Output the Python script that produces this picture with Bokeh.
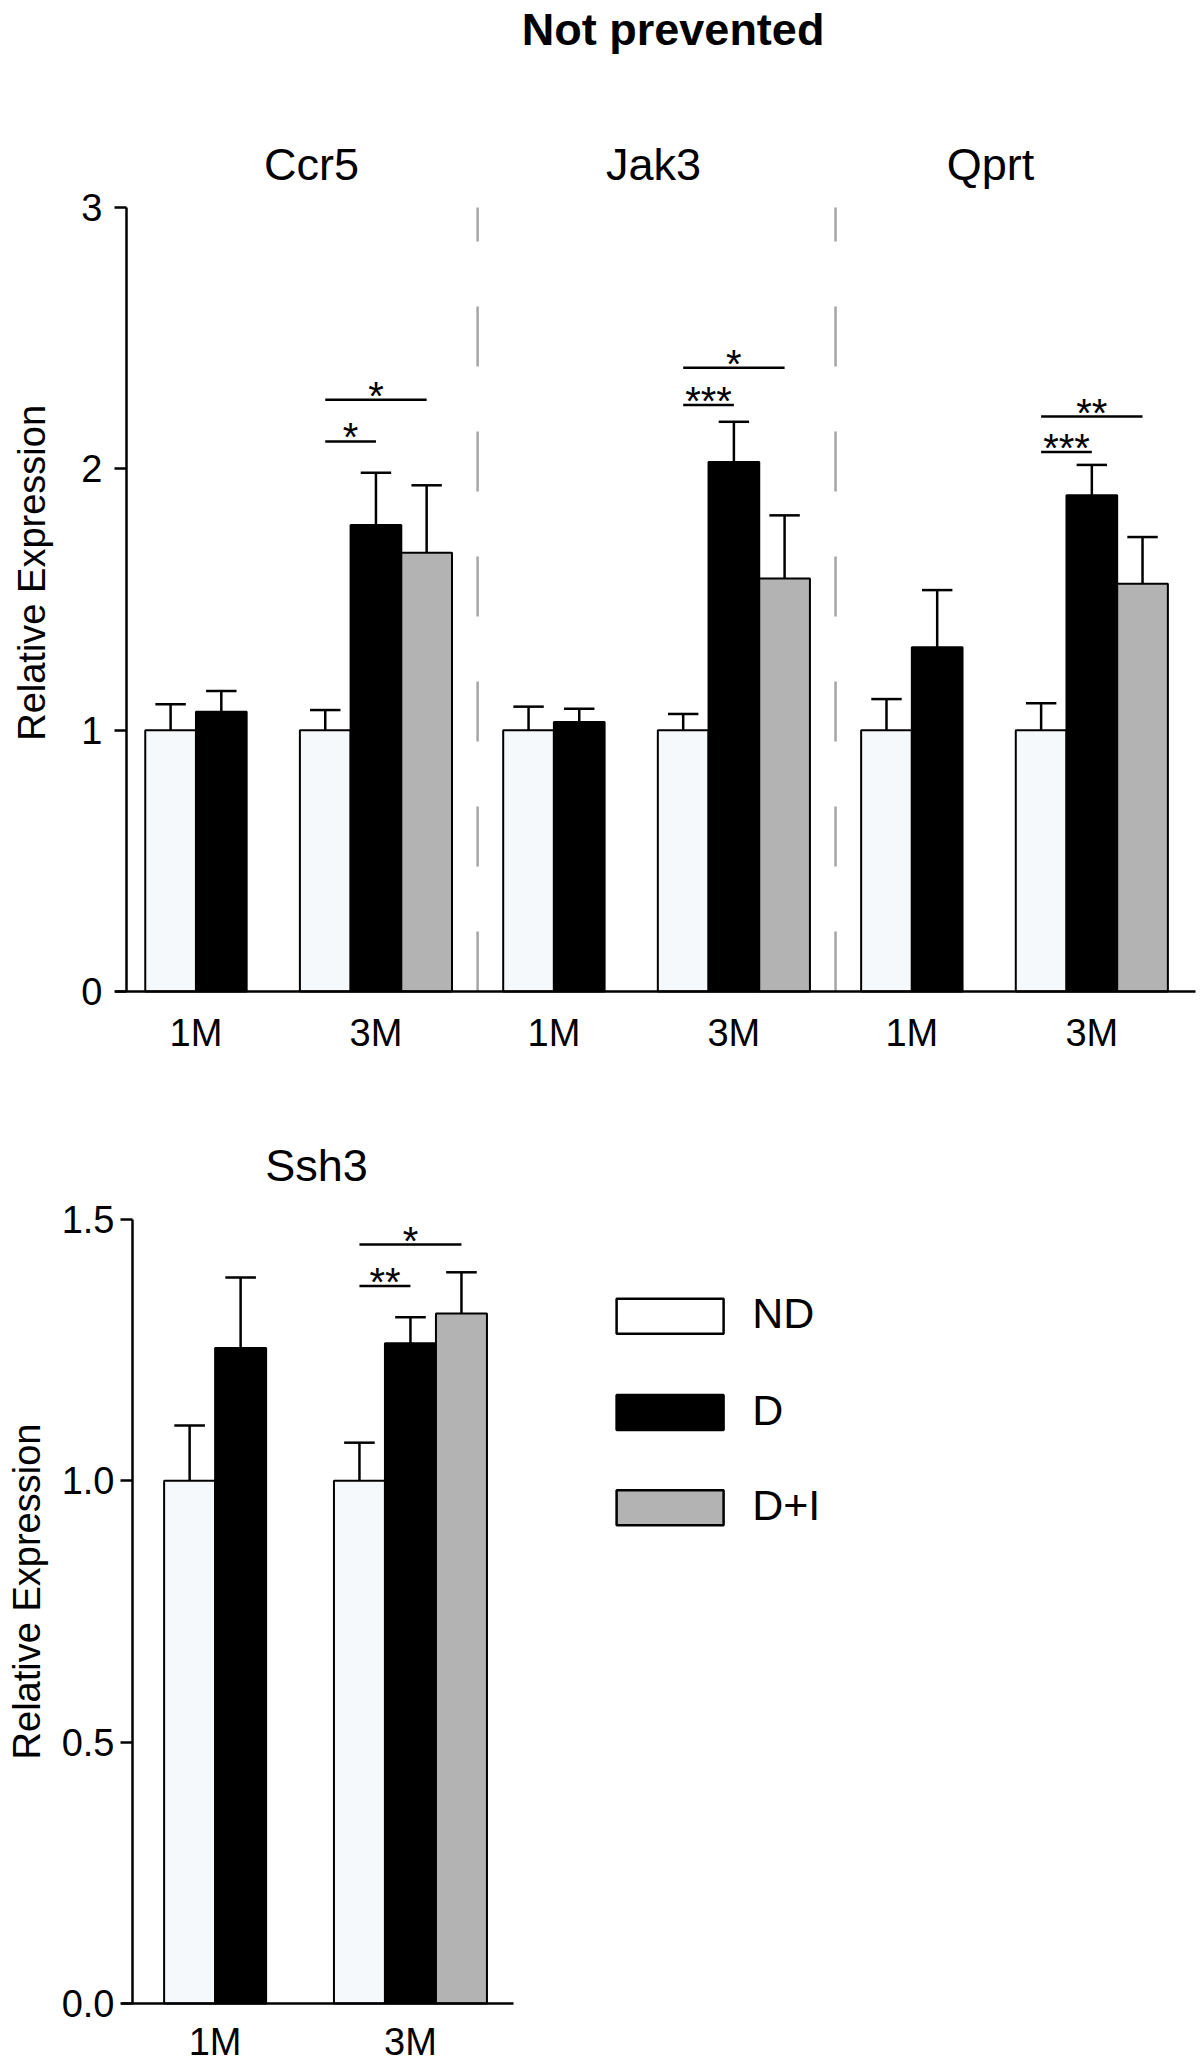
import math
from bokeh.plotting import figure
from bokeh.models import (Range1d, FixedTicker, CustomJSTickFormatter,
                          ColumnDataSource, PrintfTickFormatter)
from bokeh.layouts import column
from bokeh.embed import file_html
from bokeh.resources import INLINE
from bokeh.core.properties import value

# ---------------- data ----------------
chart_title = "Not prevented"
y_axis_label = "Relative Expression"
top_genes = ["Ccr5", "Jak3", "Qprt"]
bottom_gene = "Ssh3"
timepoints = ["1M", "3M"]
groups = ["ND", "D", "D+I"]

# gene order: Ccr5, Jak3, Qprt, Ssh3
nd_1m_mean = [1.00, 1.00, 1.00, 1.00]
nd_1m_sem = [0.099, 0.090, 0.119, 0.106]
d_1m_mean = [1.070, 1.031, 1.317, 1.254]
d_1m_sem = [0.080, 0.051, 0.219, 0.135]
nd_3m_mean = [1.00, 1.00, 1.00, 1.00]
nd_3m_sem = [0.077, 0.062, 0.103, 0.073]
d_3m_mean = [1.785, 2.026, 1.899, 1.263]
d_3m_sem = [0.200, 0.154, 0.116, 0.050]
di_3m_mean = [1.679, 1.580, 1.560, 1.320]
di_3m_sem = [0.258, 0.242, 0.179, 0.079]

# significance brackets at 3M: ND vs group
sig_gene = ["Ccr5", "Ccr5", "Jak3", "Jak3", "Qprt", "Qprt", "Ssh3", "Ssh3"]
sig_vs = ["D", "D+I", "D", "D+I", "D", "D+I", "D", "D+I"]
sig_level = [2.105, 2.264, 2.244, 2.387, 2.064, 2.200, 1.373, 1.452]
sig_text = ["*", "*", "***", "*", "***", "**", "**", "*"]

top_yticks = [0, 1, 2, 3]
bottom_yticks = [0.0, 0.5, 1.0, 1.5]
top_ymax = 3.0
bottom_ymax = 1.5

# ---------------- style / layout ----------------
FONT = "Liberation Sans"
fill = {"ND": "#F6F9FB", "D": "#000000", "D+I": "#B3B3B3"}
legend_fill = {"ND": "#FFFFFF", "D": "#000000", "D+I": "#B3B3B3"}
PANEL = 7.06
OFF_TOP = {"1M": 0.37, "3M": 3.42}
OFF_BOT = {"1M": 0.62, "3M": 3.95}
CAP = 0.6
LW = 2.5
TICK_FS = "38px"
STAR_FS = "40px"
STAR_DY = -4
TEXT_DY = -3
W = 1196


class Frame:
    """pixel layout of a figure whose frame fills the whole canvas"""

    def __init__(self, page_top, height, ox, oy, pxx, pxy):
        self.page_top, self.h, self.ox, self.oy = page_top, height, ox, oy
        self.pxx, self.pxy = pxx, pxy

    def xr(self):
        return (-self.ox / self.pxx, (W - self.ox) / self.pxx)

    def yr(self):
        return (-(self.h - self.oy) / self.pxy, self.oy / self.pxy)

    def X(self, page_x):
        return (page_x - self.ox) / self.pxx

    def Y(self, page_y):
        return (self.page_top + self.oy - page_y) / self.pxy


def base_fig(fr, ymax, yticks):
    p = figure(frame_width=W, frame_height=fr.h,
               x_range=Range1d(*fr.xr()), y_range=Range1d(*fr.yr()),
               min_border=0, output_backend="svg", toolbar_location=None)
    p.xgrid.visible = False
    p.ygrid.visible = False
    p.outline_line_color = None
    p.background_fill_color = "white"
    p.border_fill_color = "white"
    for ax in (p.xaxis[0], p.yaxis[0]):
        ax.fixed_location = 0
        ax.axis_line_width = LW
        ax.axis_line_color = "black"
        ax.major_tick_line_width = LW
        ax.minor_tick_line_color = None
        ax.major_label_text_font = FONT
        ax.major_label_text_font_size = TICK_FS
        ax.major_label_text_color = "black"
    p.yaxis.major_tick_out = 12
    p.yaxis.major_tick_in = 0
    p.yaxis.bounds = (0, ymax)
    p.yaxis.ticker = FixedTicker(ticks=yticks)
    p.xaxis.major_tick_line_color = None
    p.xaxis.major_tick_out = 0
    p.xaxis.major_tick_in = 0
    return p


def ptext(p, x, y, text, size, angle=0.0, bold=False, align="center",
          x_off=0, y_off=TEXT_DY):
    p.text(x=[x], y=[y], text=[text], text_font=value(FONT), text_font_size=size,
           text_font_style="bold" if bold else "normal", angle=angle,
           x_offset=x_off, y_offset=y_off,
           text_align=align, text_baseline="middle", text_color="black")


def draw_gene(p, gi, base, offsets):
    centers = {}
    for t in timepoints:
        for k, g in enumerate(time_groups[t]):
            centers[(t, g)] = base + offsets[t] + k + 0.5
    for g in groups:
        keys = [(t, g) for t in timepoints if g in time_groups[t]]
        xs = [centers[k] for k in keys]
        tops = [means[k][gi] for k in keys]
        his = [means[k][gi] + sems[k][gi] for k in keys]
        src = ColumnDataSource(dict(x=xs, top=tops, hi=his,
                                    xl=[x - CAP / 2 for x in xs],
                                    xr=[x + CAP / 2 for x in xs]))
        p.vbar(x="x", top="top", bottom=0, width=1.0, source=src,
               fill_color=fill[g], line_color="black", line_width=2)
        p.segment(x0="x", y0="top", x1="x", y1="hi", source=src,
                  line_color="black", line_width=LW)
        p.segment(x0="xl", y0="hi", x1="xr", y1="hi", source=src,
                  line_color="black", line_width=LW)
    gene = (top_genes + [bottom_gene])[gi]
    for i, sg in enumerate(sig_gene):
        if sg != gene:
            continue
        x0 = centers[("3M", "ND")]
        x1 = centers[("3M", sig_vs[i])]
        p.segment(x0=[x0], y0=[sig_level[i]], x1=[x1], y1=[sig_level[i]],
                  line_color="black", line_width=LW)
        p.text(x=[(x0 + x1) / 2], y=[sig_level[i]], text=[sig_text[i]],
               text_font=value(FONT), text_font_size=STAR_FS, y_offset=STAR_DY,
               text_align="center", text_baseline="middle", text_color="black")
    tick_pos = []
    for t in timepoints:
        cs = [centers[(t, g)] for g in time_groups[t]]
        tick_pos.append(sum(cs) / len(cs))
    first = centers[("1M", "ND")] - 0.5
    last = centers[("3M", groups[-1])] + 0.5
    return tick_pos, first, last


time_groups = {"1M": ["ND", "D"], "3M": ["ND", "D", "D+I"]}
means = {("1M", "ND"): nd_1m_mean, ("1M", "D"): d_1m_mean,
         ("3M", "ND"): nd_3m_mean, ("3M", "D"): d_3m_mean, ("3M", "D+I"): di_3m_mean}
sems = {("1M", "ND"): nd_1m_sem, ("1M", "D"): d_1m_sem,
        ("3M", "ND"): nd_3m_sem, ("3M", "D"): d_3m_sem, ("3M", "D+I"): di_3m_sem}

# ---------------- top figure ----------------
ft = Frame(page_top=0, height=1061, ox=126, oy=991, pxx=50.7, pxy=784 / 3)
top = base_fig(ft, top_ymax, top_yticks)
top.yaxis.major_label_standoff = 12

ticks, tick_labels, spans = [], [], []
for gi, gname in enumerate(top_genes):
    tp, first, last = draw_gene(top, gi, gi * PANEL, OFF_TOP)
    ticks += tp
    tick_labels += timepoints
    spans.append((first, last))

for k in range(1, len(top_genes)):
    xd = (spans[k - 1][1] + spans[k][0]) / 2
    top.segment(x0=[xd], y0=[0], x1=[xd], y1=[top_ymax],
                line_color="#A6A6A6", line_width=LW, line_dash="60 65")

top.xaxis.bounds = (ft.X(114.5), ft.X(1195))
top.xaxis.ticker = FixedTicker(ticks=ticks)
top.xaxis.formatter = CustomJSTickFormatter(args=dict(labels=tick_labels),
                                            code="return labels[index] || '';")
top.xaxis.major_label_standoff = 20

title_px = [311, 653, 990]
for gname, tx in zip(top_genes, title_px):
    ptext(top, ft.X(tx), ft.Y(166.5), gname, "45px")
ptext(top, ft.X(672.6), ft.Y(29), chart_title, "45px", bold=True, y_off=0)
ptext(top, ft.X(28.4), ft.Y(572.4), y_axis_label, "38px", angle=math.pi / 2, y_off=0, x_off=3)

# ---------------- bottom figure ----------------
fb = Frame(page_top=1061, height=1004, ox=132, oy=942, pxx=51, pxy=784 / 1.5)
bot = base_fig(fb, bottom_ymax, bottom_yticks)
bot.yaxis.formatter = PrintfTickFormatter(format="%.1f")
bot.yaxis.major_label_standoff = 6

btp, bfirst, blast = draw_gene(bot, 3, 0.0, OFF_BOT)
bot.xaxis.bounds = (fb.X(120.5), fb.X(513))
bot.xaxis.ticker = FixedTicker(ticks=btp)
bot.xaxis.formatter = CustomJSTickFormatter(args=dict(labels=timepoints),
                                            code="return labels[index] || '';")
bot.xaxis.major_label_standoff = 17

ptext(bot, fb.X(316), fb.Y(1168), bottom_gene, "45px")
ptext(bot, fb.X(23), fb.Y(1591), y_axis_label, "38px", angle=math.pi / 2, y_off=0, x_off=3)

# legend
leg_src = ColumnDataSource(dict(y=[fb.Y(1315.8), fb.Y(1412), fb.Y(1507.3)],
                                label=groups,
                                color=[legend_fill[g] for g in groups]))
bot.rect(x=fb.X(669.6), y="y", width=107 / fb.pxx, height=35 / fb.pxy,
         source=leg_src, fill_color="color", line_color="black", line_width=LW)
bot.text(x=fb.X(751.7), y="y", text="label", source=leg_src,
         text_font=value(FONT), text_font_size="43px", y_offset=TEXT_DY,
         text_align="left", text_baseline="middle", text_color="black")

layout = column(top, bot)
open("out.html", "w").write(file_html(layout, INLINE))
